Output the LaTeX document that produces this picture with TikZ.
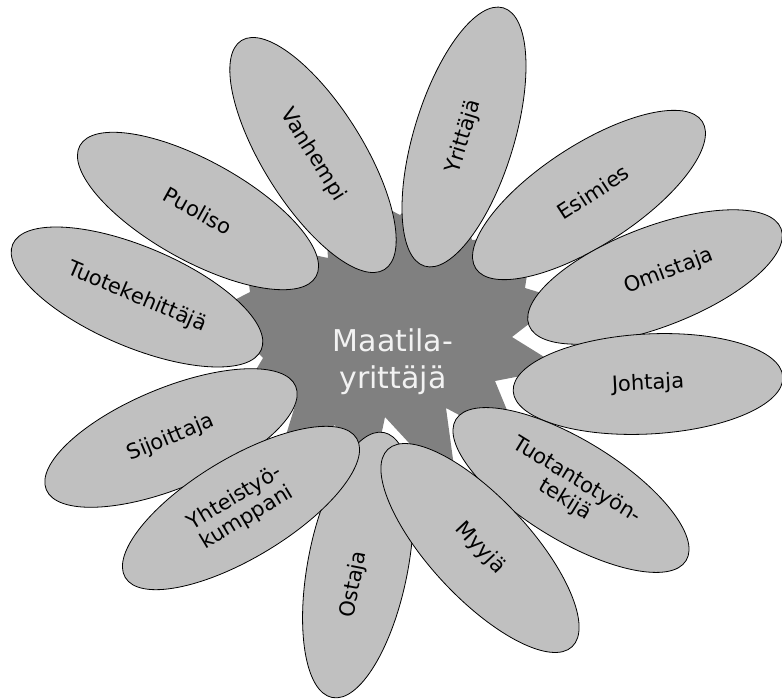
\documentclass[tikz,border=0pt]{standalone}
\usepackage{fontspec}
\setmainfont{DejaVu Sans}
\usetikzlibrary{shapes.geometric}
\definecolor{lehti}{HTML}{C0C0C0}
\definecolor{tahti}{HTML}{808080}
\begin{document}
\begin{tikzpicture}[x=1pt,y=1pt,
  petal/.style={ellipse,draw=black,line width=0.8pt,fill=lehti,
    minimum width=270pt,minimum height=100pt,inner sep=0pt,
    align=center,font=\fontsize{21pt}{23pt}\selectfont}]
\useasboundingbox (0,0) rectangle (782,-700);
%tahti
  \fill[tahti] (512,-337) -- (561,-299) -- (525,-288) -- (533,-235)
    -- (472,-240) -- (451,-171) -- (400,-215) -- (322,-174)
    -- (328,-258) -- (243,-240) -- (250,-292) -- (217,-309)
    -- (263,-358) -- (232,-410) -- (297,-399) -- (276,-468)
    -- (335,-425) -- (366,-508) -- (385,-417) -- (458,-496)
    -- (446,-408) -- (523,-449) -- (495,-381) -- (562,-368) -- cycle;

%terälehdet
  \node[petal,rotate=79] (ostaja) at (358,-565) {Ostaja\hspace*{40pt}};
  \node[petal,rotate=-23] (kehittaja) at (137,-297) {Tuotekehittäjä};
  \node[petal,rotate=-29] (puoliso) at (198,-211) {Puoliso};
  \node[petal,rotate=-58] (vanhempi) at (313,-155) {Vanhempi};
  \node[petal,rotate=73] (yrittaja) at (464,-137) {Yrittäjä};
  \node[petal,rotate=33] (esimies) at (589,-195) {\hspace*{10pt}Esimies};
  \node[petal,rotate=21] (omistaja) at (655,-277) {\hspace*{30pt}Omistaja};
  \node[petal,rotate=3] (johtaja) at (648,-384) {Johtaja};
  \node[petal,rotate=-31.5] (tuotanto) at (571,-490) {Tuotantotyön-\\tekijä};
  \node[petal,rotate=-47] (myyja) at (480,-548) {Myyjä};
  \node[petal,rotate=22.5] (sijoittaja) at (171,-438) {Sijoittaja};
  \node[petal,rotate=31] (kumppani) at (241,-508) {Yhteistyö-\\kumppani};

%keskus
  \node[text=white!95!black,align=center,font=\fontsize{30pt}{37pt}\selectfont] (maatila) at (393,-362) {Maatila-\\yrittäjä};
\end{tikzpicture}
\end{document}
